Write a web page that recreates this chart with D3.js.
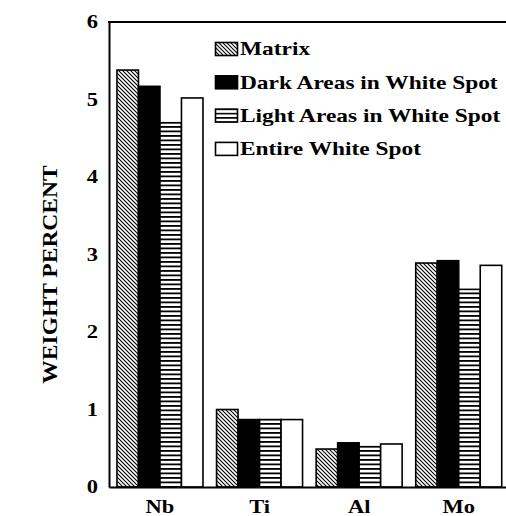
<!DOCTYPE html>
<html><head><meta charset="utf-8">
<script src="https://cdn.jsdelivr.net/npm/d3@7"></script>
<style>body{margin:0;background:#fff}svg{display:block}</style>
</head><body>
<svg id="c" width="506" height="516"></svg>
<script>
const categories = ["Nb", "Ti", "Al", "Mo"];
const seriesNames = ["Matrix", "Dark Areas in White Spot", "Light Areas in White Spot", "Entire White Spot"];
const matrix = [5.38, 1.00, 0.49, 2.89];
const darkAreas = [5.17, 0.87, 0.57, 2.92];
const lightAreas = [4.70, 0.87, 0.52, 2.55];
const entireSpot = [5.02, 0.87, 0.555, 2.86];
const yTicks = [0, 1, 2, 3, 4, 5, 6];

(function(){
const seriesValues = [matrix, darkAreas, lightAreas, entireSpot];
const fills = ["url(#hatch)", "#000", "url(#hstripe)", "#fff"];
const legendFills = ["url(#hatch)", "#000", "url(#lstripe)", "#fff"];
const FONT = "'Liberation Serif','Times New Roman',serif";
const SX = 1.25;

const svg = d3.select("#c");
const defs = svg.append("defs");
const hp = defs.append("pattern").attr("id","hatch").attr("patternUnits","userSpaceOnUse")
  .attr("width",4).attr("height",4);
hp.append("rect").attr("width",4).attr("height",4).attr("fill","#fff");
hp.append("path").attr("d","M-1,-1L5,5M-1,3L1,5M3,-1L5,1").attr("stroke","#000").attr("stroke-width",1.1);
const sp = defs.append("pattern").attr("id","hstripe").attr("patternUnits","userSpaceOnUse")
  .attr("width",8).attr("height",4.5);
sp.append("rect").attr("width",8).attr("height",4.5).attr("fill","#fff");
sp.append("rect").attr("y",0).attr("width",8).attr("height",1.8).attr("fill","#000");
const lp = defs.append("pattern").attr("id","lstripe").attr("patternUnits","userSpaceOnUse")
  .attr("width",8).attr("height",4.3).attr("y",1);
lp.append("rect").attr("width",8).attr("height",4.3).attr("fill","#fff");
lp.append("rect").attr("y",0).attr("width",8).attr("height",1.6).attr("fill","#000");

const mLeft = 109, mTop = 22, mBottom = 487, mRight = 506;
const y = d3.scaleLinear().domain([0, 6]).range([mBottom, mTop]);
const x = d3.scaleBand().domain(categories).range([mLeft, 509.7]).paddingInner(0.1365).paddingOuter(0.08);
const xs = d3.scaleBand().domain(d3.range(seriesNames.length)).range([0, x.bandwidth()]);

const g = svg.append("g");
categories.forEach((c, ci) => {
  seriesValues.forEach((vals, si) => {
    g.append("rect")
      .attr("x", x(c) + xs(si)).attr("width", xs.bandwidth())
      .attr("y", y(vals[ci])).attr("height", y(0) - y(vals[ci]))
      .attr("fill", fills[si]).attr("stroke", "#000").attr("stroke-width", 1.6);
  });
});

const ya = svg.append("g").attr("transform", `translate(${mLeft},0)`)
  .call(d3.axisLeft(y).tickValues(yTicks).tickFormat(d3.format("d")).tickSizeInner(0).tickSizeOuter(0).tickPadding(11));
ya.select(".domain").attr("stroke-width", 2);
ya.selectAll("text").attr("font-family", FONT).attr("font-weight","bold").attr("font-size", 18).attr("fill","#000")
  .attr("x", -11/SX).attr("transform", `scale(${SX},1)`);

const xa = svg.append("g").attr("transform", `translate(0,${mBottom})`)
  .call(d3.axisBottom(x).tickSizeInner(0).tickSizeOuter(0).tickPadding(13));
xa.select(".domain").attr("stroke-width", 2);
xa.selectAll("text").attr("font-family", FONT).attr("font-weight","bold").attr("font-size", 18).attr("fill","#000")
  .attr("transform", `scale(${SX},1)`);

svg.append("line").attr("x1", mLeft-1).attr("x2", mRight).attr("y1", mTop).attr("y2", mTop)
  .attr("stroke","#000").attr("stroke-width",2);

svg.append("text").attr("transform", `translate(57,${(mTop+mBottom)/2+20}) rotate(-90) scale(1.12,1)`)
  .attr("text-anchor","middle").attr("font-family", FONT).attr("font-weight","bold")
  .attr("font-size", 21).attr("fill","#000").text("WEIGHT PERCENT");

const LX = 1.3;
const lg = svg.append("g");
seriesNames.forEach((n, i) => {
  const cy = 49 + i*33.3;
  lg.append("rect").attr("x", 215.5).attr("y", cy-6.5).attr("width", 22).attr("height", 13)
    .attr("fill", legendFills[i]).attr("stroke","#000").attr("stroke-width",1.6);
  lg.append("text").attr("x", 240/LX).attr("y", cy+6.5).attr("transform", `scale(${LX},1)`)
    .attr("font-family", FONT).attr("font-weight","bold")
    .attr("font-size", 18).attr("fill","#000").text(n);
});
})();
</script>
</body></html>
